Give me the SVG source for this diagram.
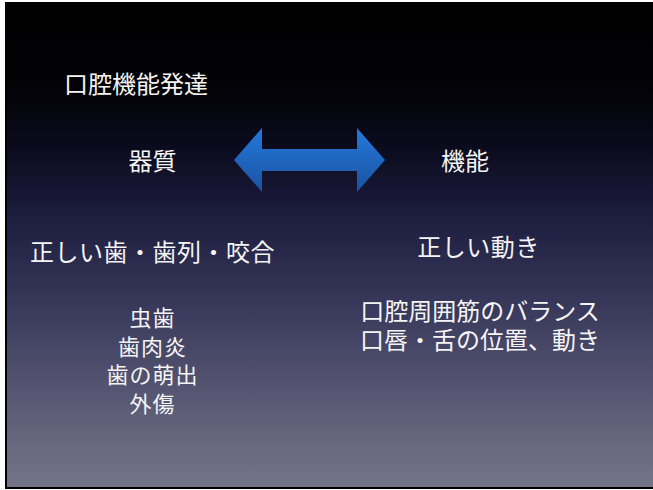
<svg xmlns="http://www.w3.org/2000/svg" width="653" height="490" viewBox="0 0 653 490">
<defs>
<linearGradient id="bg" x1="0" y1="0" x2="0" y2="1">
<stop offset="0" stop-color="#000000"/>
<stop offset="0.18" stop-color="#030307"/>
<stop offset="0.3" stop-color="#0b0b1e"/>
<stop offset="0.45" stop-color="#1e1e40"/>
<stop offset="0.65" stop-color="#3c3c5e"/>
<stop offset="0.85" stop-color="#5e5e78"/>
<stop offset="1" stop-color="#747489"/>
</linearGradient>
<linearGradient id="arrowFill" x1="0" y1="0" x2="0" y2="1">
<stop offset="0" stop-color="#2479da"/>
<stop offset="1" stop-color="#1a52a2"/>
</linearGradient>
<style>
.t{font-family:"Noto Sans CJK JP","Noto Sans CJK SC",sans-serif;font-size:24px;fill:#f4f4f4}
.s{font-size:22px}
.m{text-anchor:middle}
</style>
</defs>
<rect x="0" y="0" width="653" height="490" fill="#ffffff"/>
<rect x="5" y="2" width="648" height="487" fill="#000000"/>
<rect x="7" y="2" width="646" height="485" fill="url(#bg)"/>
<g id="title"><text class="t" x="64" y="93">口腔機能発達</text></g>
<g id="organ"><text class="t m" x="152.5" y="170">器質</text></g>
<g id="function"><text class="t m" x="465" y="170">機能</text></g>
<g id="connectors">
<path d="M234,160 L262,128 L262,149 L357,149 L357,128 L385,160 L357,192 L357,171 L262,171 L262,192 Z" fill="url(#arrowFill)"/>
</g>
<g id="left-main"><text class="t m" x="152.5" y="261" letter-spacing="0.5">正しい歯・歯列・咬合</text></g>
<g id="left-list">
<text class="t s m" letter-spacing="1"><tspan x="152.5" y="326">虫歯</tspan><tspan x="152.5" y="354.5">歯肉炎</tspan><tspan x="152.5" y="383">歯の萌出</tspan><tspan x="152.5" y="411.5">外傷</tspan></text>
</g>
<g id="right-main"><text class="t m" x="478.5" y="256" letter-spacing="0.5">正しい動き</text></g>
<g id="right-list">
<text class="t m"><tspan x="480" y="320">口腔周囲筋のバランス</tspan><tspan x="480" y="349">口唇・舌の位置、動き</tspan></text>
</g>
</svg>
